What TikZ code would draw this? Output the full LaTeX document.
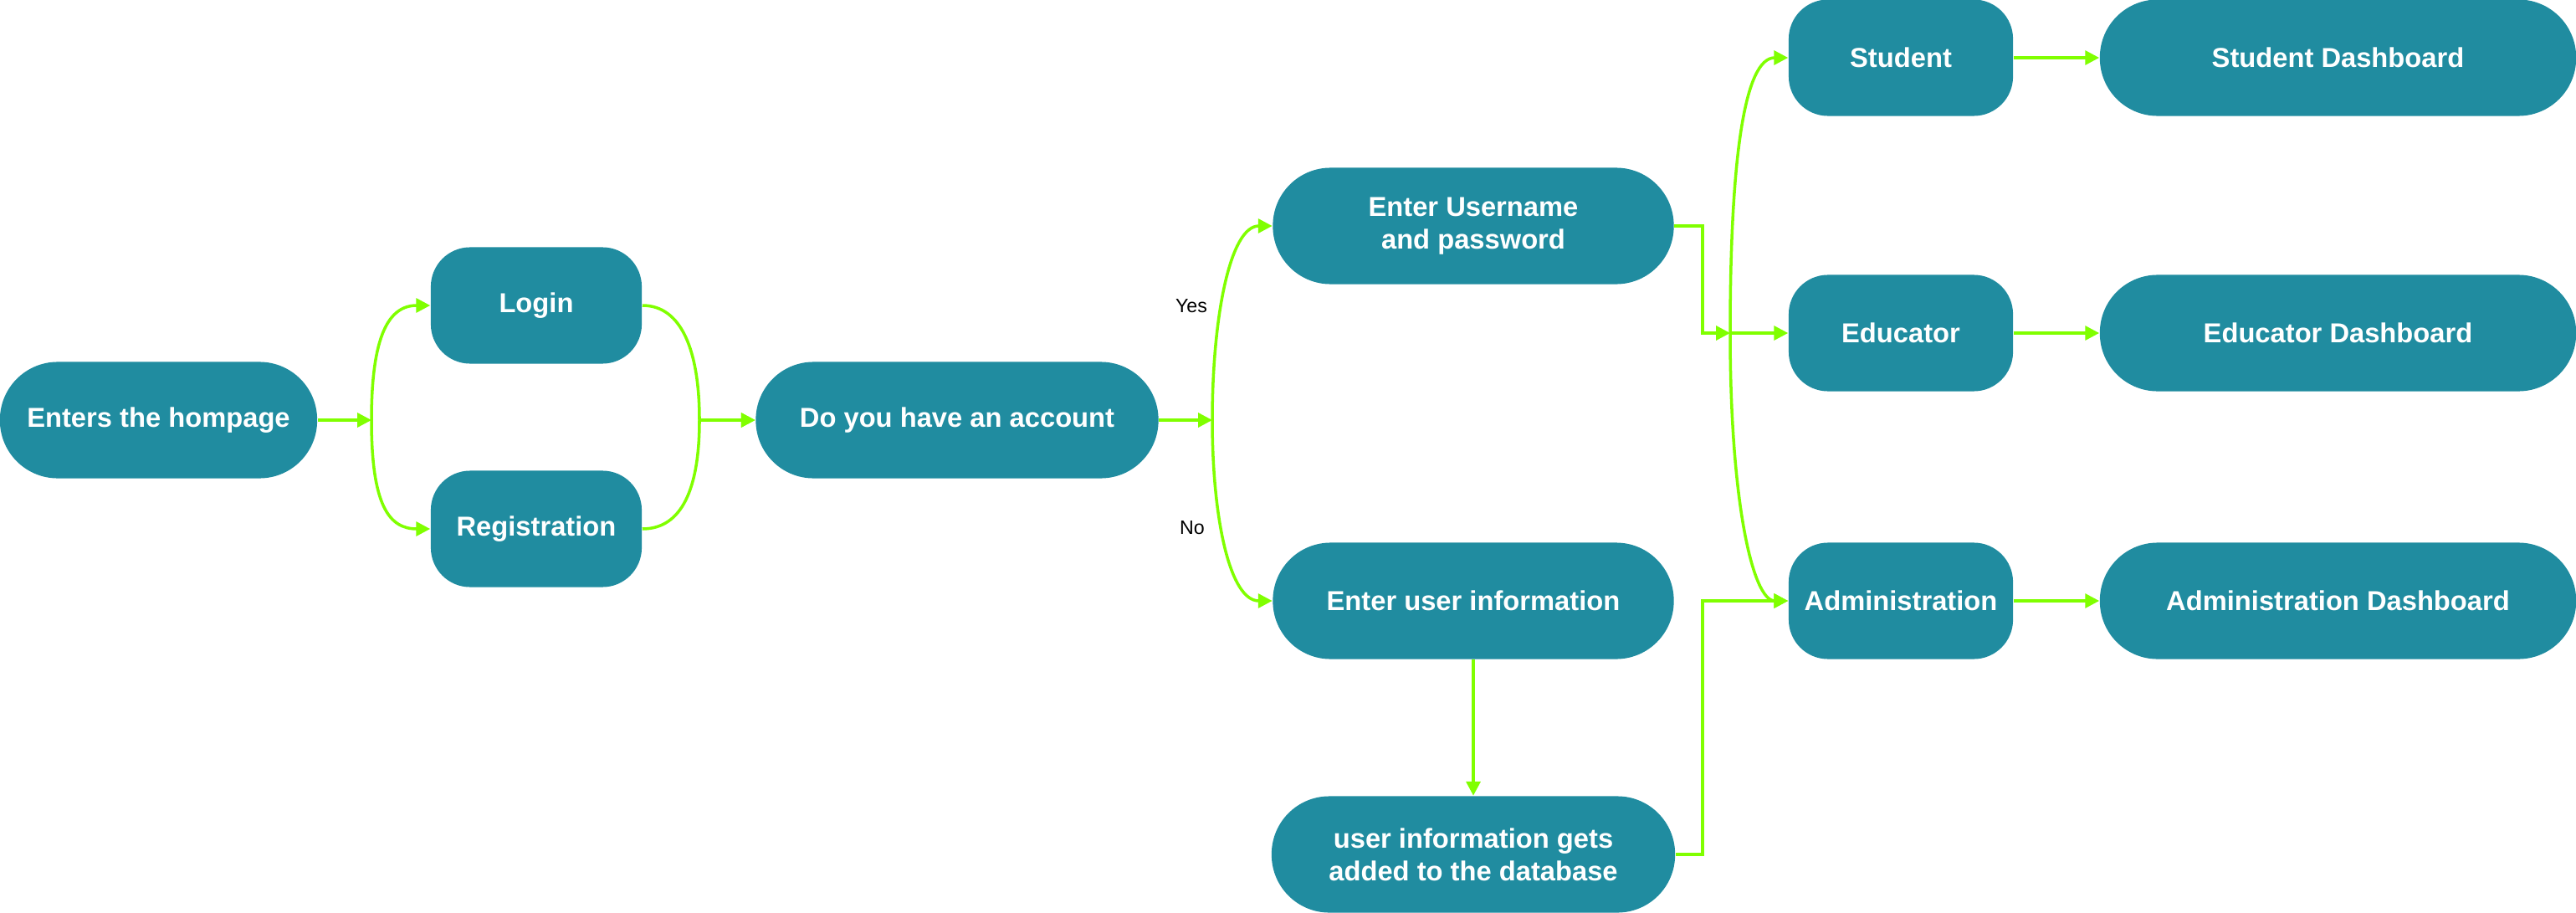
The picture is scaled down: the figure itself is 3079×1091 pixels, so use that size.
\documentclass[tikz,border=0pt]{standalone}
\usepackage{fontspec}
\setmainfont{Liberation Sans}
\usetikzlibrary{arrows.meta}
\definecolor{nodeteal}{RGB}{32,140,160}
\definecolor{linkgreen}{RGB}{128,255,0}
\tikzset{
  base/.style={text=white, fill=nodeteal, font=\bfseries\fontsize{9.3}{11.2}\selectfont, align=center, inner sep=0pt, minimum height=1.39cm},
  pill/.style={base, rounded corners=0.69cm},
  pod/.style={base, rounded corners=0.47cm, minimum width=2.52cm},
  rolebox/.style={base, rounded corners=0.47cm, minimum width=2.68cm},
  link/.style={draw=linkgreen, line width=1pt, -{Triangle[length=4.8pt,width=4.8pt]}},
  lbl/.style={font=\fontsize{6.6}{8}\selectfont, text=black, inner sep=0pt}
}
\begin{document}
\begin{tikzpicture}[x=0.01cm,y=-0.01cm]
\useasboundingbox (0,0) rectangle (3079,1091);
% nodes
\node[pill, minimum width=3.79cm] (enter) at (189.5,502) {Enters the hompage};
\node[pod] (login) at (641,365) {Login};
\node[pod] (reg) at (641,632) {Registration};
\node[pill, minimum width=4.81cm] (acct) at (1144,502) {Do you have an account};
\node[pill, minimum width=4.79cm] (userpw) at (1761,270) {Enter Username\\and password};
\node[pill, minimum width=4.79cm] (uinfo) at (1761,718) {Enter user information};
\node[pill, minimum width=4.82cm] (db) at (1761,1021) {user information gets\\added to the database};
\node[rolebox] (student) at (2272,69) {Student};
\node[rolebox] (educator) at (2272,398) {Educator};
\node[rolebox] (admin) at (2272,718) {Administration};
\node[pill, minimum width=5.69cm] (sdash) at (2794.5,69) {Student Dashboard};
\node[pill, minimum width=5.69cm] (edash) at (2794.5,398) {Educator Dashboard};
\node[pill, minimum width=5.69cm] (adash) at (2794.5,718) {Administration Dashboard};
% junctions
\coordinate (j1) at (444,502);
\coordinate (j2) at (836,502);
\coordinate (j3) at (1449,502);
\coordinate (j4) at (2068,398);
\coordinate (k1) at (2035,398);
\coordinate (k2) at (2035,718);
% connectors
\draw[link] (enter.east) -- (j1);
\draw[link] (j1) .. controls (444,400) and (465,365) .. (login.west);
\draw[link] (j1) .. controls (444,604) and (465,632) .. (reg.west);
\draw[link] (login.east) .. controls (815,365) and (836,420) .. (j2) -- (acct.west);
\draw[link] (reg.east) .. controls (815,632) and (836,584) .. (j2) -- (acct.west);
\draw[link] (acct.east) -- (j3);
\draw[link] (j3) .. controls (1449,380) and (1470,270) .. (userpw.west);
\draw[link] (j3) .. controls (1449,620) and (1470,718) .. (uinfo.west);
\node[lbl] (yes) at (1424,366) {Yes};
\node[lbl] (no) at (1425,631) {No};
\draw[link] (userpw.east) -| (k1) -- (j4);
\draw[link] (j4) -- (educator.west);
\draw[link] (j4) .. controls (2068,190) and (2085,69) .. (student.west);
\draw[link] (j4) .. controls (2068,600) and (2095,718) .. (admin.west);
\draw[link] (uinfo.south) -- (db.north);
\draw[link] (db.east) -| (k2) -- (admin.west);
\draw[link] (student.east) -- (sdash.west);
\draw[link] (educator.east) -- (edash.west);
\draw[link] (admin.east) -- (adash.west);
\end{tikzpicture}
\end{document}
